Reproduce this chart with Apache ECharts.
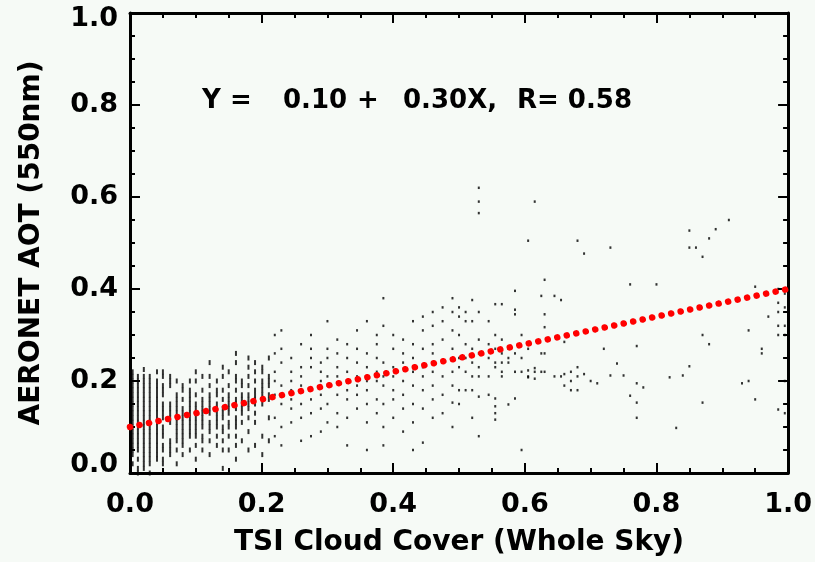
<!DOCTYPE html>
<html><head><meta charset="utf-8">
<script src="https://cdn.jsdelivr.net/npm/echarts@6/dist/echarts.min.js"></script>
<style>html,body{margin:0;padding:0;background:#f6faf6}#c{width:815px;height:562px}</style>
</head><body><div id="c"></div><script>
// Regression line endpoints (Y = 0.10 + 0.30X)
const fitX = [0, 1];
const fitY = [0.10, 0.40];
// Scatter: cloud cover columns and AOT values in each column
const cloudCover = [
 0.004,0.012,0.021,0.030,0.041,0.050,0.061,0.071,0.080,0.091,0.100,0.110,0.121,0.132,0.141,0.150,0.161,0.170,0.180,0.190,0.201,0.211,
 0.22,0.23,0.245,0.26,0.275,0.29,0.30,0.315,0.33,0.345,0.36,0.375,0.385,0.40,0.415,0.43,0.445,0.46,0.475,0.49,0.50,0.51,0.52,0.53,0.545,0.555,0.565,0.575,0.585,0.595,0.605,0.615,0.625,0.63,0.645,0.655,
 0.66,0.67,0.68,0.69,0.70,0.71,0.72,0.73,0.74,0.75,0.76,0.77,0.78,0.80,0.82,0.83,0.84,0.85,0.86,0.87,0.88,0.89,0.91,0.93,0.94,0.95,0.96,0.97,0.985,0.995
];
const aot = [
 [0.02,0.04,0.05,0.06,0.07,0.08,0.09,0.10,0.11,0.12,0.13,0.14,0.15,0.16,0.17,0.18,0.19,0.20,0.21,0.22],
 [0.00,0.01,0.03,0.05,0.06,0.07,0.08,0.09,0.10,0.11,0.12,0.13,0.14,0.15,0.16,0.17,0.18,0.19,0.20,0.21],
 [0.01,0.02,0.03,0.04,0.05,0.06,0.07,0.08,0.09,0.10,0.11,0.12,0.13,0.14,0.15,0.16,0.17,0.18,0.19,0.20,0.21,0.225],
 [0.00,0.02,0.03,0.04,0.05,0.06,0.07,0.08,0.09,0.10,0.11,0.12,0.13,0.14,0.15,0.16,0.17,0.18,0.19,0.20,0.21],
 [0.03,0.04,0.05,0.06,0.07,0.08,0.09,0.10,0.11,0.12,0.13,0.14,0.15,0.16,0.17,0.18,0.19,0.20,0.22],
 [0.02,0.03,0.05,0.06,0.08,0.09,0.10,0.12,0.13,0.14,0.15,0.17,0.18,0.19,0.21,0.22],
 [0.04,0.05,0.06,0.07,0.11,0.12,0.13,0.14,0.15,0.19,0.20,0.21],
 [0.02,0.05,0.07,0.08,0.09,0.10,0.11,0.12,0.13,0.14,0.15,0.16,0.17,0.20],
 [0.04,0.06,0.07,0.08,0.09,0.10,0.11,0.12,0.13,0.14,0.16,0.18,0.19],
 [0.05,0.08,0.09,0.10,0.11,0.12,0.13,0.14,0.15,0.16,0.17,0.18,0.20],
 [0.03,0.06,0.08,0.09,0.10,0.11,0.12,0.13,0.14,0.15,0.17,0.20,0.22],
 [0.05,0.07,0.08,0.10,0.11,0.12,0.13,0.14,0.15,0.16,0.18,0.21],
 [0.04,0.07,0.09,0.10,0.11,0.13,0.14,0.15,0.16,0.17,0.19,0.21,0.24],
 [0.06,0.08,0.10,0.11,0.12,0.13,0.14,0.15,0.17,0.18,0.20],
 [0.01,0.05,0.07,0.09,0.10,0.12,0.13,0.14,0.16,0.18,0.21,0.23],
 [0.05,0.08,0.10,0.11,0.13,0.14,0.15,0.16,0.17,0.19,0.22],
 [0.03,0.06,0.08,0.10,0.11,0.12,0.14,0.15,0.16,0.18,0.20,0.21,0.24,0.26],
 [0.07,0.11,0.13,0.14,0.15,0.16,0.17,0.19,0.20],
 [0.05,0.09,0.12,0.14,0.15,0.16,0.17,0.19,0.21,0.23,0.25],
 [0.06,0.11,0.13,0.15,0.16,0.17,0.18,0.20,0.22,0.24],
 [0.04,0.08,0.15,0.17,0.18,0.19,0.20,0.22,0.23],
 [0.07,0.12,0.16,0.17,0.19,0.20,0.21,0.25],
 [0.30,0.26,0.22,0.20,0.17,0.12,0.08],
 [0.31,0.27,0.24,0.19,0.15,0.10,0.06],
 [0.25,0.22,0.20,0.18,0.16,0.14,0.11],
 [0.28,0.23,0.21,0.19,0.15,0.12,0.07],
 [0.30,0.27,0.25,0.23,0.18,0.16,0.13,0.08],
 [0.24,0.22,0.20,0.17,0.14,0.09],
 [0.33,0.27,0.25,0.21,0.19,0.15,0.11],
 [0.29,0.26,0.23,0.21,0.17,0.13,0.10],
 [0.28,0.25,0.22,0.20,0.18,0.16,0.12,0.06],
 [0.31,0.27,0.24,0.21,0.19,0.17,0.14],
 [0.33,0.26,0.23,0.20,0.18,0.15,0.11,0.05],
 [0.30,0.28,0.25,0.22,0.20,0.16,0.13],
 [0.38,0.32,0.24,0.21,0.19,0.15,0.10,0.06],
 [0.30,0.27,0.23,0.21,0.18,0.16,0.12],
 [0.29,0.26,0.24,0.20,0.17,0.14,0.09],
 [0.33,0.28,0.25,0.22,0.19,0.15,0.11,0.05],
 [0.34,0.31,0.27,0.23,0.21,0.18,0.14,0.066],
 [0.35,0.32,0.28,0.26,0.22,0.19,0.16,0.12],
 [0.36,0.33,0.29,0.24,0.21,0.17,0.13],
 [0.38,0.35,0.31,0.27,0.22,0.19,0.153,0.10],
 [0.36,0.34,0.30,0.25,0.23,0.18,0.15],
 [0.35,0.33,0.28,0.25,0.22,0.18],
 [0.376,0.33,0.27,0.24,0.21,0.18,0.12],
 [0.62,0.59,0.565,0.35,0.29,0.26,0.23,0.21,0.166,0.08],
 [0.33,0.28,0.25,0.21,0.17],
 [0.367,0.30,0.27,0.24,0.23,0.162,0.145,0.13,0.116],
 [0.367,0.29,0.26,0.24,0.22,0.21],
 [0.27,0.25,0.24,0.149],
 [0.396,0.355,0.345,0.26,0.22,0.162],
 [0.30,0.25,0.22,0.05],
 [0.505,0.27,0.223,0.21,0.208],
 [0.59,0.228,0.22,0.205],
 [0.385,0.26,0.22],
 [0.42,0.345,0.317,0.26,0.22],
 [0.385,0.21],
 [0.376,0.21],
 [0.285,0.215,0.19],
 [0.22,0.20,0.18],
 [0.505,0.23,0.21,0.18],
 [0.477,0.215],
 [0.20],
 [0.195],
 [0.27],
 [0.49,0.212],
 [0.238],
 [0.212],
 [0.41,0.168],
 [0.276,0.195,0.153,0.12],
 [0.186],
 [0.41],
 [0.208],
 [0.098],
 [0.212],
 [0.527,0.49,0.232],
 [0.49],
 [0.47,0.30,0.153],
 [0.51,0.28],
 [0.53],
 [0.55],
 [0.195],
 [0.31,0.20],
 [0.405,0.16],
 [0.27,0.26],
 [0.34],
 [0.40,0.37,0.35,0.32,0.30,0.138],
 [0.39,0.36,0.32,0.30,0.20,0.13]
];
const denseColumnCount = 22;
const equationParts = ['Y =', '0.10', '+', '0.30X,', 'R= 0.58'];

const densePoints = [], sparsePoints = [];
cloudCover.forEach((x, i) => aot[i].forEach(y => (i < denseColumnCount ? densePoints : sparsePoints).push([x, y])));
const fitData = fitX.map((x, i) => [x, fitY[i]]);

const FONT = 'DejaVu Sans';
const lblStyle = {fontFamily: FONT, fontWeight: 'bold', color: '#000'};
function axisCommon(showLabel) {
  return {
    type: 'value', min: 0, max: 1, interval: 0.2,
    axisLine: {show: true, onZero: false, lineStyle: {color: '#000', width: 3}},
    axisTick: {show: true, inside: true, length: 10, lineStyle: {color: '#000', width: 2}},
    minorTick: {show: true, splitNumber: 4, length: 5, lineStyle: {color: '#000', width: 2}},
    splitLine: {show: false},
    axisLabel: showLabel ? Object.assign({show: true, fontSize: 27, formatter: v => v.toFixed(1)}, lblStyle) : {show: false}
  };
}
const yLabel = Object.assign({}, lblStyle, {fontSize: 27});
const chart = echarts.init(document.getElementById('c'), null, {renderer: 'canvas'});
const xEqPos = [202, 283, 357, 403, 517];
const xAxisMain = Object.assign(axisCommon(true), {position: 'bottom', name: 'TSI Cloud Cover (Whole Sky)', nameLocation: 'middle', nameGap: 56,
      nameTextStyle: Object.assign({fontSize: 28}, lblStyle)});
xAxisMain.axisLabel.margin = 18;
const yAxisMain = Object.assign(axisCommon(true), {position: 'left', name: 'AERONET AOT (550nm)', nameLocation: 'middle', nameGap: 84,
      nameTextStyle: Object.assign({fontSize: 28}, lblStyle)});
yAxisMain.axisLabel = {show: true, margin: 12,
  formatter: v => (v === 0 ? '{lo|0.0}' : v === 1 ? '{hi|1.0}' : '{n|' + v.toFixed(1) + '}'),
  rich: {n: yLabel, lo: Object.assign({padding: [0, 0, 16, 0]}, yLabel), hi: Object.assign({padding: [12, 0, 0, 0]}, yLabel)}};
chart.setOption({
  backgroundColor: '#f6faf6',
  animation: false,
  grid: {left: 130, right: 25, top: 13, bottom: 89},
  xAxis: [xAxisMain, Object.assign(axisCommon(false), {position: 'top'})],
  yAxis: [yAxisMain, Object.assign(axisCommon(false), {position: 'right'})],
  series: [
    {type: 'scatter', data: densePoints, symbol: 'rect', symbolSize: [2, 5], itemStyle: {color: '#000'}, silent: true},
    {type: 'scatter', data: sparsePoints, symbol: 'rect', symbolSize: [2, 2.5], itemStyle: {color: '#000'}, silent: true},
    {type: 'line', data: fitData, symbol: 'none',
      lineStyle: {color: '#ff0000', width: 6.5, type: [0.1, 9.6], cap: 'round'}, silent: true}
  ],
  graphic: equationParts.map((t, i) => ({type: 'text', left: xEqPos[i], top: 88,
    style: {text: t, font: 'bold 26px "DejaVu Sans"', fill: '#000'}}))
});
</script></body></html>
